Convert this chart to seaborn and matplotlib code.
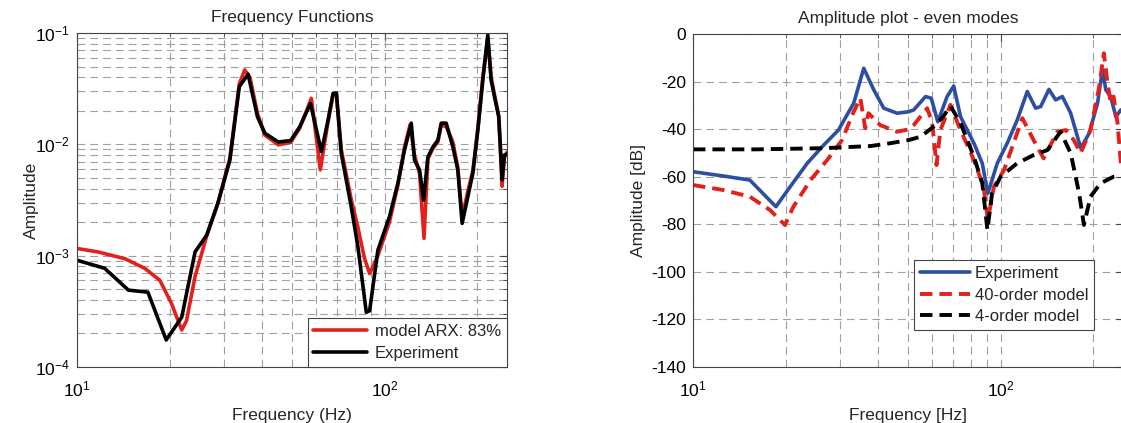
import numpy as np
import pandas as pd
import matplotlib
matplotlib.use("Agg")
import matplotlib.pyplot as plt
import matplotlib.ticker as mticker
import seaborn as sns

# ---- Frequency functions (linear amplitude) ----
exp_freq = [10, 12.3, 14.7, 17.0, 19.5, 21.9, 24.2, 26.4, 28.7, 31.4, 33.7, 36.0,
            38.6, 40.8, 45.1, 49.5, 53.0, 57.4, 62.3, 65.5, 68.0, 69.7, 72.3, 77.9,
            81.9, 87.2, 89.4, 95.1, 103.7, 110.5, 116.1, 122.1, 125.1, 129.9, 133.9,
            138.3, 143.6, 149, 152.8, 158.6, 166.7, 173, 178.7, 186.5, 193.6, 201,
            208.6, 216.5, 222, 227.6, 235, 241, 245, 250]
exp_amp = [9.1e-4, 7.7e-4, 4.9e-4, 4.7e-4, 1.75e-4, 2.8e-4, 1.08e-3, 1.53e-3,
           2.95e-3, 7.2e-3, 0.033, 0.0426, 0.0177, 0.0126, 0.0105, 0.0108, 0.0144,
           0.0233, 8.6e-3, 0.0165, 0.0287, 0.0287, 8.3e-3, 2.75e-3, 1.2e-3, 3.1e-4,
           3.2e-4, 1.12e-3, 2.24e-3, 4.5e-3, 8.9e-3, 0.0155, 7.2e-3, 5.9e-3, 3.16e-3,
           7.7e-3, 9.5e-3, 0.0109, 0.0155, 0.0155, 9.5e-3, 5.9e-3, 1.95e-3, 3.4e-3,
           5.5e-3, 0.0134, 0.0378, 0.096, 0.0378, 0.0268, 0.0177, 4.8e-3, 8.0e-3, 8.2e-3]

arx_freq = [10, 11.7, 14.3, 16.6, 18.6, 20.3, 21.9, 22.7, 24.2, 26.4, 28.7, 31.4,
            33.7, 35.1, 36.5, 38.6, 40.8, 45.1, 49.5, 53.0, 57.8, 61.8, 65.5, 68.0,
            69.7, 72.3, 77.9, 81.9, 86.0, 89.4, 95.1, 103.7, 110.5, 116.1, 121,
            125.1, 129.9, 134.3, 138.3, 143.6, 149, 152.8, 158.6, 166.7, 173, 178.7,
            186.5, 193.6, 201, 208.6, 216.5, 222, 227.6, 235, 241, 245, 250]
arx_amp = [1.16e-3, 1.08e-3, 9.4e-4, 7.7e-4, 6.0e-4, 3.7e-4, 2.15e-4, 2.6e-4,
           6.5e-4, 1.5e-3, 2.95e-3, 7.5e-3, 0.035, 0.0466, 0.04, 0.019, 0.0121,
           0.0099, 0.0104, 0.014, 0.0259, 5.9e-3, 0.016, 0.028, 0.029, 9.0e-3,
           3.2e-3, 1.8e-3, 9.5e-4, 6.9e-4, 1.0e-3, 2.0e-3, 4.3e-3, 9.5e-3, 0.015,
           8e-3, 5.5e-3, 1.43e-3, 7.4e-3, 9.2e-3, 0.0105, 0.0148, 0.0145, 0.0105,
           6.2e-3, 2.2e-3, 3.8e-3, 5.8e-3, 0.014, 0.04, 0.09, 0.04, 0.028, 0.018,
           4.2e-3, 7.5e-3, 8.5e-3]

# ---- Amplitude plot, even modes (dB) ----
exp_db_freq = [10, 12.55, 15.3, 18.6, 20.7, 23.5, 26.6, 29.7, 33.3, 35.9, 38.7, 41.7,
               46.1, 50.2, 52.2, 57.0, 59.5, 62.5, 67.0, 70.4, 74.1, 81.9, 87.2, 90.9,
               97.5, 105.1, 113.3, 122.1, 130, 135, 143.6, 151, 158.8, 169, 182.2,
               194.1, 206.6, 214.4, 219.8, 228, 237, 246, 252]
exp_db = [-57.9, -59.7, -61.4, -72.6, -64.2, -54.4, -46.7, -40.4, -29.1, -14.4,
          -23.5, -31.2, -33.3, -32.7, -31.9, -26.3, -27.0, -36.9, -26.3, -21.9,
          -34.8, -45.9, -54.4, -67.0, -54.4, -45.9, -36.1, -24.2, -31.2, -30.5,
          -23.3, -27.7, -26.3, -33.3, -48.0, -41.7, -29.1, -15.1, -23.5, -26.3,
          -34.8, -31.9, -33.0]

m40_freq = [10, 12.55, 15.3, 17.8, 19.9, 21.2, 24.1, 27.3, 30.5, 33.3, 35.0, 36.3,
            37.2, 40.6, 46.1, 50.2, 52.2, 57.7, 59.9, 61.9, 63.7, 68.7, 73.3, 81.9,
            88.0, 90.9, 95.1, 102.6, 110.2, 117.7, 128, 138, 153, 163, 173, 182, 196,
            208.8, 216.6, 222, 228, 233, 240, 246, 252]
m40_db = [-63.5, -65.6, -68.4, -74.0, -80.3, -72.6, -61.4, -53.0, -44.6, -32.7,
          -27.0, -39.6, -33.3, -38.3, -41.1, -40.1, -38.3, -31.2, -37.0, -55.1,
          -40.4, -29.8, -39.0, -53.0, -64.2, -78.2, -64.2, -57.2, -45.9, -35.4,
          -44.6, -52.3, -41.1, -40.4, -44.6, -50.1, -40.4, -22.8, -8.1, -19.3,
          -29.1, -26.3, -37.5, -54.4, -45.0]

m4_freq = [10, 16.1, 26.6, 37.8, 43.9, 50.2, 54.9, 60.5, 65, 68.7, 74.1, 81.9, 87.2,
           90.6, 93.8, 100, 113, 128, 142, 156.6, 169, 180, 186.6, 196, 211, 233, 252]
m4_db = [-48.5, -48.5, -48.0, -47.1, -45.9, -44.6, -43.2, -39.0, -34.8, -30.3,
         -37.5, -51.6, -62.8, -82.4, -67.0, -60.0, -54.4, -50.9, -48.8, -41.1,
         -50.1, -67.0, -80.3, -68.4, -62.8, -60.0, -59.4]

RED = "#e2211c"
BLUE = "#2c4fa3"

sns.set_theme(style="white")
plt.rcParams["font.family"] = ["Liberation Sans", "DejaVu Sans"]
plt.rcParams["font.size"] = 12
plt.rcParams["axes.edgecolor"] = "#444444"
plt.rcParams["axes.linewidth"] = 0.8
plt.rcParams["axes.unicode_minus"] = False
plt.rcParams["legend.fontsize"] = 12

fig = plt.figure(figsize=(11.21, 4.23), dpi=100)
ax1 = fig.add_axes([77 / 1121, 1 - 367 / 423, 430 / 1121, 334 / 423])
ax2 = fig.add_axes([693 / 1121, 1 - 367 / 423, 430 / 1121, 333 / 423])

grid_kw = dict(color="#a0a0a0", linewidth=0.8, linestyle=(0, (7, 4.5)))

def style_axes(ax):
    ax.tick_params(which="both", direction="in", top=True, right=True,
                   colors="#444444", labelcolor="black", labelsize=12.5)
    ax.tick_params(which="major", length=5, width=0.8)
    ax.tick_params(which="minor", length=3, width=0.6)
    ax.tick_params(axis="x", which="major", pad=9)
    ax.tick_params(axis="y", which="major", pad=5)
    for s in ax.spines.values():
        s.set_visible(True)
        s.set_color("#444444")

# Left: frequency functions on log-log axes
df_arx = pd.DataFrame({"f": arx_freq, "a": arx_amp})
df_exp = pd.DataFrame({"f": exp_freq, "a": exp_amp})
sns.lineplot(data=df_arx, x="f", y="a", ax=ax1, color=RED, lw=2.6,
             label="model ARX: 83%")
sns.lineplot(data=df_exp, x="f", y="a", ax=ax1, color="black", lw=2.6,
             label="Experiment")
ax1.set_xscale("log")
ax1.set_yscale("log")
ax1.set_xlim(10, 250)
ax1.set_ylim(1e-4, 1e-1)
ax1.xaxis.set_minor_locator(mticker.LogLocator(base=10, subs=np.arange(2, 10)))
ax1.yaxis.set_minor_locator(mticker.LogLocator(base=10, subs=np.arange(2, 10)))
ax1.xaxis.set_minor_formatter(mticker.NullFormatter())
ax1.yaxis.set_minor_formatter(mticker.NullFormatter())
ax1.grid(True, which="both", axis="both", **grid_kw)
ax1.set_axisbelow(True)
style_axes(ax1)
ax1.set_title("Frequency Functions", fontsize=12.5, pad=8)
ax1.set_xlabel("Frequency (Hz)", fontsize=12.5, labelpad=6)
ax1.set_ylabel("Amplitude", fontsize=12.5, labelpad=-3)
leg1 = ax1.legend(loc="lower right", borderaxespad=0, fancybox=False,
                  handlelength=3.2, framealpha=1, edgecolor="#444444",
                  borderpad=0.35, labelspacing=0.45, handletextpad=0.5)
leg1.get_frame().set_linewidth(0.8)

# Right: amplitude in dB for the even modes
df_e = pd.DataFrame({"f": exp_db_freq, "db": exp_db})
df_40 = pd.DataFrame({"f": m40_freq, "db": m40_db})
df_4 = pd.DataFrame({"f": m4_freq, "db": m4_db})
sns.lineplot(data=df_e, x="f", y="db", ax=ax2, color=BLUE, lw=2.6,
             label="Experiment")
sns.lineplot(data=df_40, x="f", y="db", ax=ax2, color=RED, lw=2.8,
             linestyle=(0, (3.2, 1.8)), label="40-order model")
sns.lineplot(data=df_4, x="f", y="db", ax=ax2, color="black", lw=2.8,
             linestyle=(0, (3.2, 1.8)), label="4-order model")
ax2.set_xscale("log")
ax2.set_xlim(10, 250)
ax2.set_ylim(-140, 0)
ax2.set_yticks(np.arange(-140, 1, 20))
ax2.xaxis.set_minor_locator(mticker.LogLocator(base=10, subs=np.arange(2, 10)))
ax2.xaxis.set_minor_formatter(mticker.NullFormatter())
ax2.grid(True, which="both", axis="x", **grid_kw)
ax2.grid(True, which="major", axis="y", **grid_kw)
ax2.set_axisbelow(True)
style_axes(ax2)
ax2.set_title("Amplitude plot - even modes", fontsize=12.5, pad=8)
ax2.set_xlabel("Frequency [Hz]", fontsize=12.5, labelpad=6)
ax2.set_ylabel("Amplitude [dB]", fontsize=12.5, labelpad=4)
leg2 = ax2.legend(loc="lower left", bbox_to_anchor=(0.514, 0.111),
                  borderaxespad=0, fancybox=False, handlelength=3.0,
                  framealpha=1, edgecolor="#444444", borderpad=0.35,
                  labelspacing=0.4, handletextpad=0.3)
leg2.get_frame().set_linewidth(0.8)

fig.savefig("out.png", dpi=100)
